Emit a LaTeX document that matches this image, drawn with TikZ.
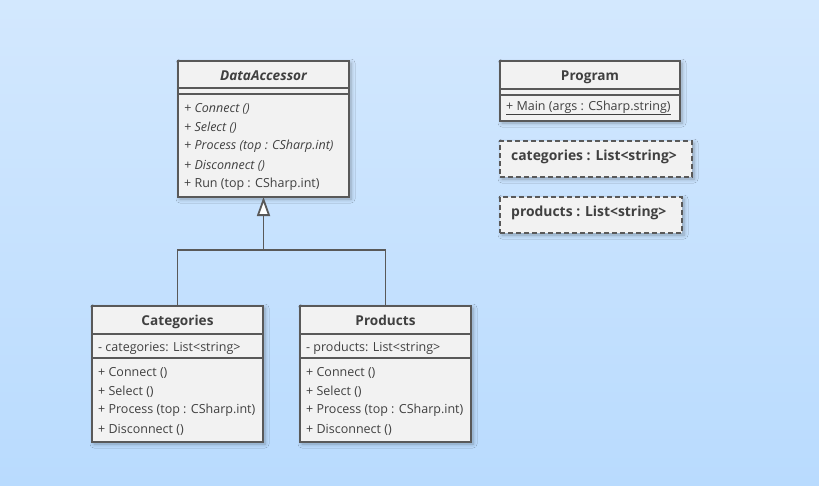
\documentclass[tikz,border=0pt]{standalone}
\usepackage{fontspec}
\setmainfont{Open Sans}
\usetikzlibrary{shadows.blur,arrows.meta}
\definecolor{bgtop}{HTML}{D3E8FE}
\definecolor{bgbot}{HTML}{B9DBFE}
\definecolor{linec}{HTML}{595959}
\definecolor{boxfill}{HTML}{F2F2F2}
\definecolor{txt}{HTML}{404040}
\begin{document}
\begin{tikzpicture}[x=1pt,y=-1pt,
  classbox/.style={draw=linec, line width=1.8pt, fill=boxfill, anchor=north west,
    inner sep=0pt, outer sep=0pt,
    blur shadow={shadow xshift=2pt, shadow yshift=-2pt, shadow blur steps=6, shadow blur radius=4pt, shadow opacity=30}},
  objbox/.style={classbox, dashed, dash pattern=on 5pt off 3pt},
  sepline/.style={draw=linec, line width=1.8pt},
  member/.style={anchor=west, inner sep=0pt, yshift=-1.5pt, text=txt, font=\fontsize{12.5}{14}\selectfont},
  imember/.style={member, font=\fontsize{12.5}{14}\selectfont\itshape},
  title/.style={anchor=base, inner sep=0pt, text=txt, font=\fontsize{13.6}{16}\selectfont\bfseries},
  objtitle/.style={title, anchor=base west, font=\fontsize{13.9}{16}\selectfont\bfseries},
  conn/.style={draw=linec, line width=1.8pt},
]
\useasboundingbox (0,0) rectangle (819,485);
\shade[top color=bgtop, bottom color=bgbot] (0,0) rectangle (819,485);

% DataAccessor
\node[classbox, minimum width=171pt, minimum height=136pt] (da) at (178,61) {};
\draw[sepline] (178,88) -- (349,88);
\draw[sepline] (178,94) -- (349,94);
\node[title, font=\fontsize{13.6}{16}\selectfont\bfseries\itshape] (datitle) at (263.5,80.5) {DataAccessor};
\node[imember] (da1) at (184,107) {+ Connect ()};
\node[imember] (da2) at (184,126) {+ Select ()};
\node[imember] (da3) at (184,145) {+ Process (top : CSharp.int)};
\node[imember] (da4) at (184,164) {+ Disconnect ()};
\node[member] (da5) at (184,183) {+ Run (top : CSharp.int)};

% Program
\node[classbox, minimum width=180pt, minimum height=60pt] (prog) at (500,61) {};
\draw[sepline] (500,89) -- (680,89);
\draw[sepline] (500,95) -- (680,95);
\node[title] (progtitle) at (590,80.5) {Program};
\node[member, yshift=0.5pt] (prog1) at (506,107) {\underline{+ Main (args : CSharp.string)}};

% objects
\node[objbox, minimum width=192pt, minimum height=36pt] (catobj) at (500,141) {};
\node[objtitle] (catobjt) at (511,160.5) {categories : List<string>};
\node[objbox, minimum width=182pt, minimum height=36pt] (prodobj) at (500,197) {};
\node[objtitle] (prodobjt) at (511,216.5) {products : List<string>};

% Categories
\node[classbox, minimum width=171pt, minimum height=136pt] (cat) at (92,306) {};
\draw[sepline] (92,334) -- (263,334);
\draw[sepline] (92,358) -- (263,358);
\node[title] (cattitle) at (177.5,325) {Categories};
\node[member] (cata) at (98,347) {- categories: List<string>};
\node[member] (cat1) at (98,371) {+ Connect ()};
\node[member] (cat2) at (98,390) {+ Select ()};
\node[member] (cat3) at (98,409) {+ Process (top : CSharp.int)};
\node[member] (cat4) at (98,428) {+ Disconnect ()};

% Products
\node[classbox, minimum width=171pt, minimum height=136pt] (prod) at (300,306) {};
\draw[sepline] (300,334) -- (471,334);
\draw[sepline] (300,358) -- (471,358);
\node[title] (prodtitle) at (385.5,325) {Products};
\node[member] (proda) at (306,347) {- products: List<string>};
\node[member] (prod1) at (306,371) {+ Connect ()};
\node[member] (prod2) at (306,390) {+ Select ()};
\node[member] (prod3) at (306,409) {+ Process (top : CSharp.int)};
\node[member] (prod4) at (306,428) {+ Disconnect ()};

% generalization
\coordinate (j) at (da.south |- 0,250);
\draw[conn] (cat.north) |- (j) -| (prod.north);
\draw[conn, -{Triangle[open, fill=white, length=19pt, width=13pt]}] (j) -- (da.south);
\end{tikzpicture}
\end{document}
